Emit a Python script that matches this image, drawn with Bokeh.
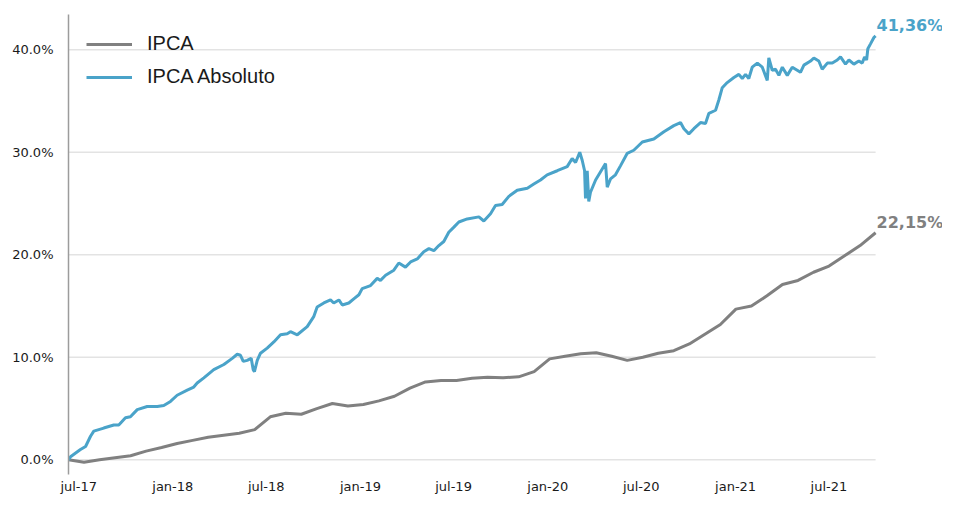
from bokeh.plotting import figure
from bokeh.models import FixedTicker, PrintfTickFormatter, Legend, LegendItem, Label, Range1d
from bokeh.embed import file_html
from bokeh.resources import INLINE

# ---- data (x in months since start of series, Jun-2017) ----
ipca_month = list(range(53))
ipca = [0.0, -0.23, 0.0, 0.2, 0.4, 0.85, 1.2, 1.6, 1.9, 2.2, 2.4, 2.6, 2.95, 4.2, 4.55,
        4.45, 5.0, 5.5, 5.25, 5.4, 5.75, 6.2, 7.0, 7.6, 7.75, 7.75, 7.95, 8.05, 8.0, 8.1,
        8.6, 9.85, 10.1, 10.35, 10.45, 10.1, 9.7, 10.0, 10.4, 10.65, 11.3, 12.25, 13.2,
        14.7, 15.0, 16.0, 17.1, 17.5, 18.3, 18.9, 19.9, 20.9, 22.15]

abs_month = [0.00, 0.13, 0.77, 1.10, 1.42, 1.63, 2.27, 2.92, 3.24, 3.67, 3.99, 4.43, 5.07,
             5.72, 6.14, 6.57, 7.00, 7.65, 8.07, 8.29, 8.72, 9.36, 10.01, 10.55, 10.87,
             11.08, 11.26, 11.51, 11.77, 11.90, 11.98, 12.16, 12.37, 12.80, 13.23, 13.66,
             14.09, 14.30, 14.74, 15.38, 15.81, 16.02, 16.45, 16.88, 17.09, 17.42, 17.64,
             18.06, 18.38, 18.71, 18.92, 19.46, 19.89, 20.10, 20.43, 20.96, 21.28, 21.71,
             22.04, 22.47, 22.89, 23.22, 23.54, 23.86, 24.18, 24.50, 24.83, 25.15, 25.69,
             26.44, 26.76, 27.19, 27.51, 27.94, 28.37, 28.91, 29.56, 29.98, 30.41, 30.84,
             31.49, 32.13, 32.45, 32.67, 32.94, 33.10, 33.25, 33.31, 33.42, 33.52, 33.63,
             33.96, 34.28, 34.60, 34.71, 34.92, 35.24, 35.57, 36.00, 36.42, 36.97, 37.71,
             38.36, 39.00, 39.43, 39.65, 39.97, 40.29, 40.72, 41.04, 41.26, 41.69, 41.90,
             42.12, 42.44, 42.87, 43.19, 43.41, 43.62, 43.83, 44.05, 44.38, 44.70, 45.02,
             45.12, 45.34, 45.55, 45.77, 45.99, 46.31, 46.63, 46.95, 47.16, 47.38, 47.81,
             48.02, 48.34, 48.56, 48.89, 49.21, 49.53, 49.74, 50.06, 50.28, 50.60, 50.92,
             51.14, 51.29, 51.42, 51.50, 51.68, 51.89, 52.00]
ipca_abs = [0.0, 0.3, 1.0, 1.3, 2.3, 2.8, 3.1, 3.4, 3.4, 4.1, 4.2, 4.9, 5.2,
            5.2, 5.3, 5.7, 6.3, 6.8, 7.1, 7.5, 8.0, 8.8, 9.3, 9.9, 10.3,
            10.2, 9.6, 9.7, 9.9, 8.8, 8.6, 9.7, 10.4, 10.9, 11.5, 12.2,
            12.3, 12.5, 12.2, 13.0, 14.0, 14.9, 15.3, 15.6, 15.3, 15.6, 15.1,
            15.3, 15.7, 16.1, 16.7, 17.0, 17.7, 17.5, 18.0, 18.5, 19.2, 18.8,
            19.3, 19.6, 20.3, 20.6, 20.4, 20.9, 21.3, 22.2, 22.7, 23.2, 23.5,
            23.7, 23.3, 24.0, 24.8, 24.9, 25.7, 26.3, 26.5, 26.9, 27.3, 27.8,
            28.2, 28.6, 29.4, 29.0, 30.0, 29.2, 28.2, 25.5, 28.2, 25.2, 26.1,
            27.3, 28.1, 28.9, 26.6, 27.4, 27.8, 28.7, 29.9, 30.2, 31.0, 31.3,
            32.0, 32.6, 32.9, 32.3, 31.8, 32.3, 32.9, 32.8, 33.8, 34.1, 35.1,
            36.3, 36.8, 37.3, 37.6, 37.2, 37.6, 37.2, 38.3, 38.7, 38.3, 37.0,
            39.2, 38.0, 38.1, 37.5, 38.3, 37.5, 38.3, 38.0, 37.8, 38.5, 38.9,
            39.2, 38.9, 38.1, 38.7, 38.7, 39.0, 39.3, 38.6, 39.0, 38.6, 38.9,
            38.7, 39.3, 39.0, 40.1, 40.6, 41.2, 41.36]

x_tick_pos = [0.66, 6.72, 12.74, 18.81, 24.81, 30.88, 36.9, 42.98, 48.99]
x_tick_labels = ["jul-17", "jan-18", "jul-18", "jan-19", "jul-19", "jan-20", "jul-20", "jan-21", "jul-21"]
y_ticks = [0, 10, 20, 30, 40]

GRAY = "#808080"
BLUE = "#4AA3C9"
FONT = "DejaVu Sans"

# 942 x 496 so that the figure fits the 958 x 512 window with the 8px page margin
p = figure(width=942, height=496, output_backend="svg", toolbar_location=None,
           x_range=Range1d(0, 56.31), y_range=Range1d(-1.43, 43.44),
           min_border_left=68, min_border_right=0, min_border_top=14, min_border_bottom=22)
p.outline_line_color = None
p.background_fill_color = "white"
p.border_fill_color = "white"

# horizontal grid lines, spanning the data period only
p.segment(x0=abs_month[0], x1=abs_month[-1], y0=y_ticks, y1=y_ticks,
          line_color="#E3E3E3", line_width=1.5)

r_ipca = p.line(ipca_month, ipca, line_color=GRAY, line_width=3)
r_abs = p.line(abs_month, ipca_abs, line_color=BLUE, line_width=3)

# axes
p.xaxis.ticker = FixedTicker(ticks=x_tick_pos)
p.xaxis.major_label_overrides = dict(zip(x_tick_pos, x_tick_labels))
p.xaxis.axis_line_color = None
p.xaxis.major_tick_line_color = None
p.xaxis.minor_tick_line_color = None
p.xaxis.major_tick_out = 0
p.xaxis.major_tick_in = 0
p.xaxis.minor_tick_out = 0
p.xaxis.major_label_standoff = 4
p.xaxis.major_label_text_font = FONT
p.xaxis.major_label_text_font_size = "13px"
p.xaxis.major_label_text_color = "#1a1a1a"

p.yaxis.ticker = FixedTicker(ticks=y_ticks)
p.yaxis.formatter = PrintfTickFormatter(format="%.1f%%")
p.yaxis.axis_line_color = "#9C9C9C"
p.yaxis.axis_line_width = 1.5
p.yaxis.major_tick_line_color = None
p.yaxis.minor_tick_line_color = None
p.yaxis.major_tick_out = 0
p.yaxis.major_tick_in = 0
p.yaxis.minor_tick_out = 0
p.yaxis.major_label_standoff = 15
p.yaxis.major_label_text_font = FONT
p.yaxis.major_label_text_font_size = "13px"
p.yaxis.major_label_text_color = "#1a1a1a"

p.xgrid.grid_line_color = None
p.ygrid.grid_line_color = None

legend = Legend(items=[LegendItem(label="IPCA", renderers=[r_ipca]),
                       LegendItem(label="IPCA Absoluto", renderers=[r_abs])],
                location="top_left", margin=18, padding=0, spacing=10,
                glyph_width=46, glyph_height=20, label_standoff=15,
                label_text_font="Liberation Sans", label_text_font_size="20px",
                label_text_color="#1a1a1a",
                background_fill_alpha=0, border_line_color=None)
p.add_layout(legend)

for xs, ys, col in ((ipca_month, ipca, GRAY), (abs_month, ipca_abs, BLUE)):
    txt = f"{ys[-1]:.2f}%".replace(".", ",")
    p.add_layout(Label(x=xs[-1], y=ys[-1], text=txt, x_offset=1, y_offset=10,
                       text_baseline="middle", text_align="left",
                       text_font=FONT, text_font_style="bold",
                       text_font_size="16px", text_color=col))

open("out.html", "w").write(file_html(p, INLINE))
